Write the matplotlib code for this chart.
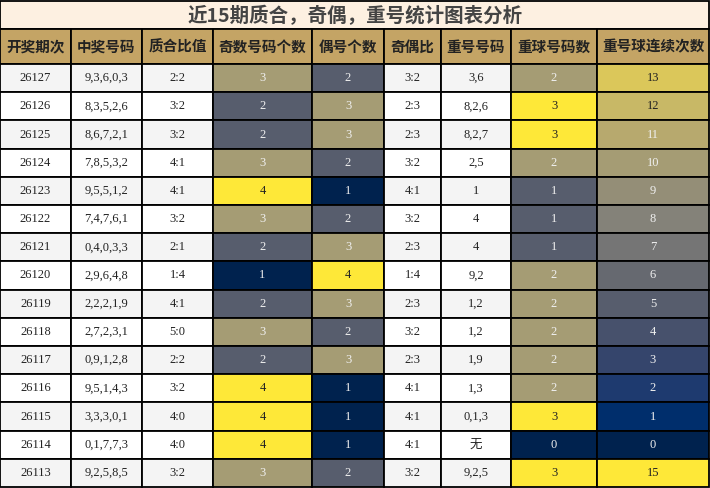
import matplotlib
matplotlib.use("Agg")
import matplotlib.pyplot as plt
from matplotlib.patches import Rectangle
from matplotlib import cm, colors as mcolors

title = "近15期质合，奇偶，重号统计图表分析"
headers = ["开奖期次", "中奖号码", "质合比值", "奇数号码个数", "偶号个数", "奇偶比", "重号号码", "重球号码数", "重号球连续次数"]
periods = ["26127","26126","26125","26124","26123","26122","26121","26120","26119","26118","26117","26116","26115","26114","26113"]
numbers = ["9,3,6,0,3","8,3,5,2,6","8,6,7,2,1","7,8,5,3,2","9,5,5,1,2","7,4,7,6,1","0,4,0,3,3","2,9,6,4,8","2,2,2,1,9","2,7,2,3,1","0,9,1,2,8","9,5,1,4,3","3,3,3,0,1","0,1,7,7,3","9,2,5,8,5"]
prime_ratio = ["2:2","3:2","3:2","4:1","4:1","3:2","2:1","1:4","4:1","5:0","2:2","3:2","4:0","4:0","3:2"]
odd_count = [3,2,2,3,4,3,2,1,2,3,2,4,4,4,3]
even_count = [2,3,3,2,1,2,3,4,3,2,3,1,1,1,2]
odd_even = ["3:2","2:3","2:3","3:2","4:1","3:2","2:3","1:4","2:3","3:2","2:3","4:1","4:1","4:1","3:2"]
repeat_nums = ["3,6","8,2,6","8,2,7","2,5","1","4","4","9,2","1,2","1,2","1,9","1,3","0,1,3","无","9,2,5"]
repeat_count = [2,3,3,2,1,1,1,2,2,2,2,2,3,0,3]
streak = [13,12,11,10,9,8,7,6,5,4,3,2,1,0,15]

W, H = 710, 488
fig = plt.figure(figsize=(W/100, H/100), dpi=100)
ax = fig.add_axes([0, 0, 1, 1])
ax.set_xlim(0, W); ax.set_ylim(H, 0); ax.axis("off")

cols = [0, 71, 142, 213, 312, 384, 441, 511, 597, 709]
title_h, head_top, head_bot = 29, 29, 64
row_h = (H - 1 - head_bot) / len(periods)
cmap = cm.get_cmap("cividis")
cjk = ["Noto Sans CJK SC", "DejaVu Sans"]
serif = ["Liberation Serif", "Noto Sans CJK SC"]

def cell(x0, x1, y0, y1, fc):
    ax.add_patch(Rectangle((x0, y0), x1 - x0, y1 - y0, facecolor=fc, edgecolor="black", lw=1.3))

cell(0, 709, 1, title_h, "#fdf0e1")
ax.text(355, 16, title, ha="center", va="center", fontsize=14, fontweight="bold", color="#444444", family=cjk)
for i, h in enumerate(headers):
    cell(cols[i], cols[i+1], head_top, head_bot, "#c4a465")
    ax.text((cols[i]+cols[i+1])/2, (head_top+head_bot)/2, h, ha="center", va="center", fontsize=10.5, fontweight="bold", color="#222222", family=cjk)

def txtcolor(rgb):
    lum = 0.299*rgb[0] + 0.587*rgb[1] + 0.114*rgb[2]
    return "#f0f0f0" if lum < 0.66 else "#222222"

norm14 = mcolors.Normalize(1, 4)
norm03 = mcolors.Normalize(0, 3)
norm15 = mcolors.Normalize(0, 15)
for r in range(len(periods)):
    y0 = head_bot + r*row_h; y1 = y0 + row_h; yc = (y0+y1)/2
    bg = "#f4f4f4" if r % 2 == 0 else "#ffffff"
    vals = [(periods[r], bg), (numbers[r], bg), (prime_ratio[r], bg),
            (str(odd_count[r]), cmap(norm14(odd_count[r]))),
            (str(even_count[r]), cmap(norm14(even_count[r]))),
            (odd_even[r], bg), (repeat_nums[r], bg),
            (str(repeat_count[r]), cmap(norm03(repeat_count[r]))),
            (str(streak[r]), cmap(norm15(streak[r])))]
    for c, (t, fc) in enumerate(vals):
        cell(cols[c], cols[c+1], y0, y1, fc)
        tc = "#222222" if fc == bg else txtcolor(mcolors.to_rgb(fc))
        ax.text((cols[c]+cols[c+1])/2, yc, t, ha="center", va="center", fontsize=9, color=tc, family=serif)

fig.savefig("out.png", dpi=100)
